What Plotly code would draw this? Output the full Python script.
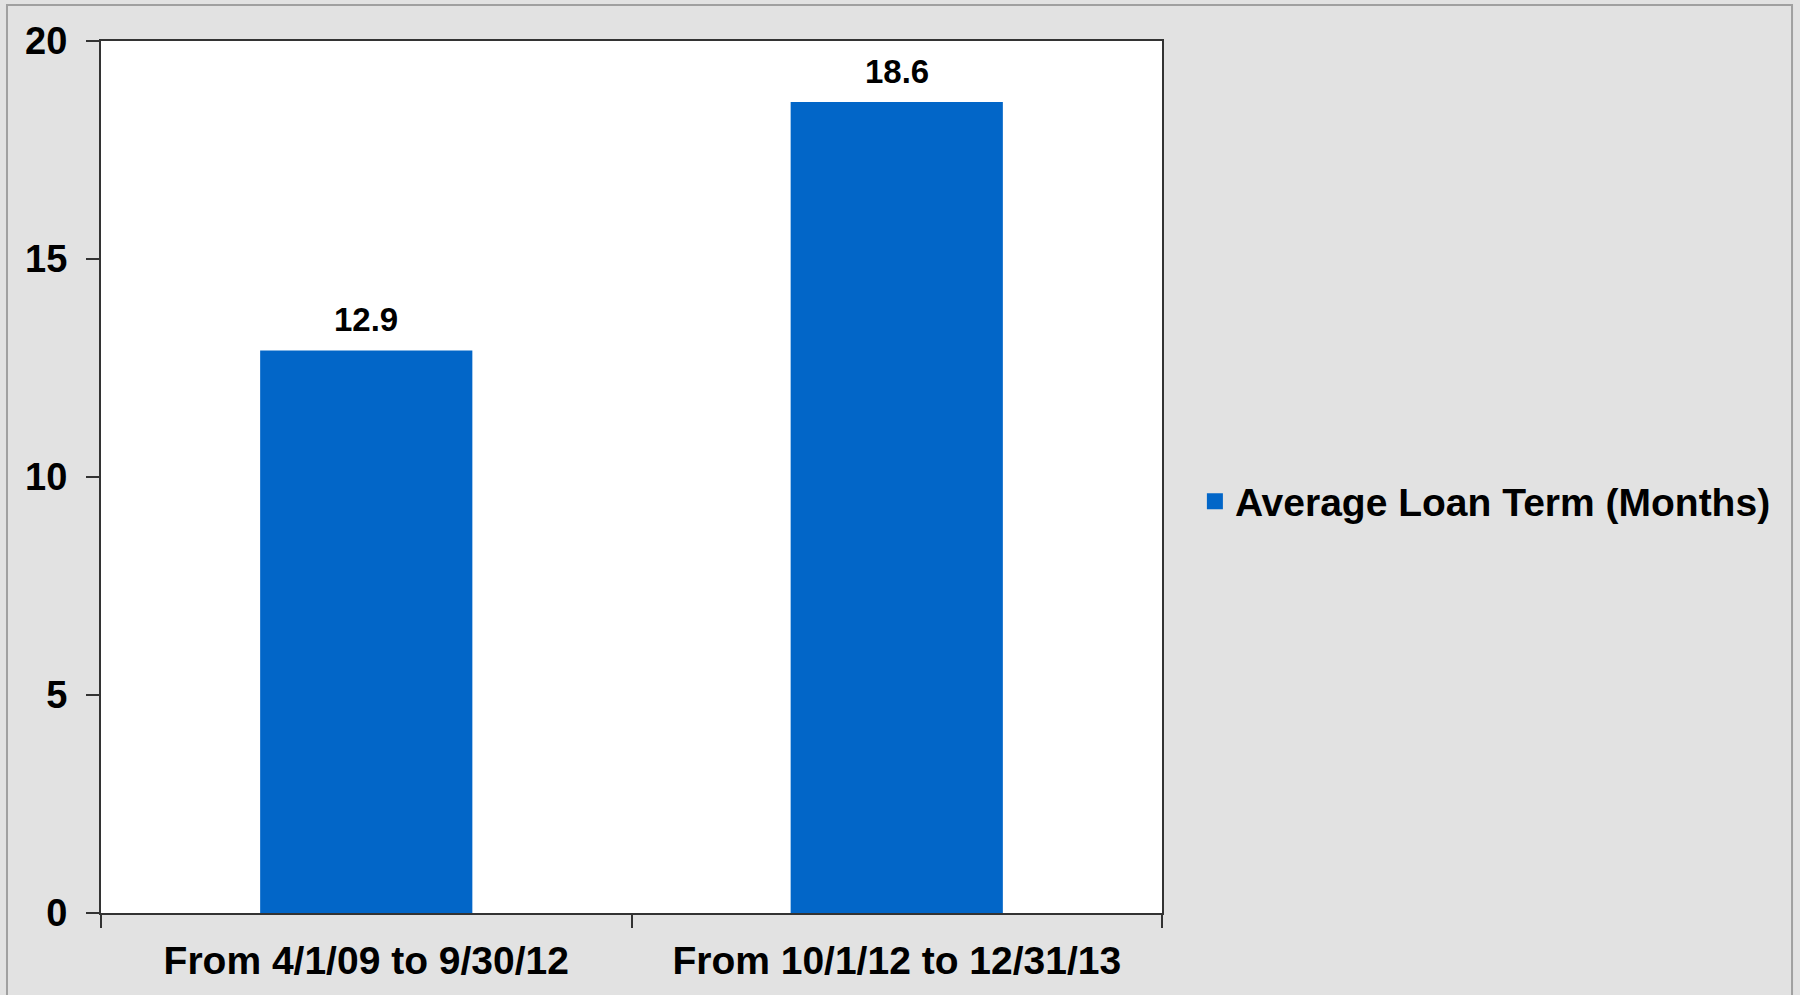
import plotly.graph_objects as go

categories = ["From 4/1/09 to 9/30/12", "From 10/1/12 to 12/31/13"]
values = [12.9, 18.6]
value_labels = ["12.9", "18.6"]
series_name = "Average Loan Term (Months)"
y_ticks = [0, 5, 10, 15, 20]

BAR = "#0266C8"
FONT = "Liberation Sans, Arial, sans-serif"

fig = go.Figure()
fig.add_trace(go.Bar(
    x=categories, y=values, width=0.4,
    marker=dict(color=BAR, line=dict(width=0)),
    showlegend=False, hoverinfo="x+y",
))
fig.add_trace(go.Scatter(
    x=[None], y=[None], mode="markers", name=series_name,
    marker=dict(symbol="square", size=21, color=BAR),
))

annotations = [
    dict(x=c, y=v, xref="x", yref="y", text=t, showarrow=False,
         yanchor="middle", yshift=31,
         font=dict(family=FONT, size=33, color="#000000", weight="bold"))
    for c, v, t in zip(categories, values, value_labels)
]

fig.update_layout(
    width=1800, height=995,
    margin=dict(l=101, r=638, t=41, b=82),
    paper_bgcolor="#E2E2E2", plot_bgcolor="#FFFFFF",
    font=dict(family=FONT, size=38, color="#000000", weight="bold"),
    annotations=annotations,
    legend=dict(x=1.031, y=0.472, xanchor="left", yanchor="middle",
                bgcolor="rgba(0,0,0,0)",
                font=dict(family=FONT, size=39, color="#000000", weight="bold"),
                itemsizing="trace"),
    shapes=[dict(type="rect", xref="paper", yref="paper",
                 x0=-0.0886, x1=1.5938, y0=-0.2, y1=1.0413,
                 line=dict(color="#A0A0A0", width=2), fillcolor="rgba(0,0,0,0)",
                 layer="below")],
)
fig.update_xaxes(
    showline=True, linecolor="#333333", linewidth=2, mirror=True,
    ticks="outside", ticklen=13, tickwidth=1.5, tickcolor="#333333",
    tickson="boundaries", showgrid=False, ticklabelstandoff=12,
    tickfont=dict(family=FONT, size=39, color="#000000", weight="bold"),
)
fig.update_yaxes(
    range=[0, 20], tickvals=y_ticks,
    showline=True, linecolor="#333333", linewidth=2, mirror=True,
    ticks="outside", ticklen=13, tickwidth=1.5, tickcolor="#333333",
    showgrid=False, zeroline=False, ticklabelstandoff=11,
    tickfont=dict(family=FONT, size=38, color="#000000", weight="bold"),
)

fig.write_html("out.html")
